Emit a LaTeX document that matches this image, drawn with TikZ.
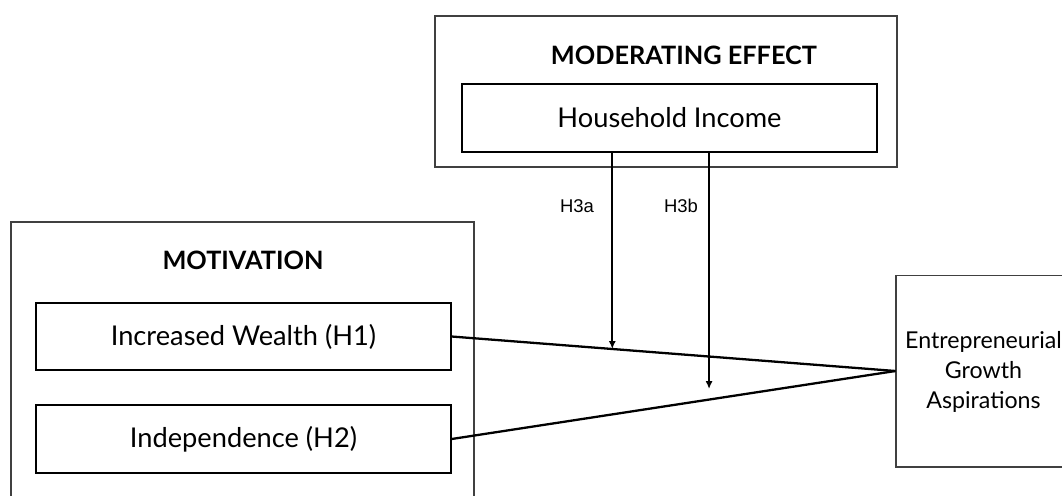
\documentclass[tikz,border=0pt]{standalone}
\usepackage{fontspec}
\setmainfont{Lato}
\newfontfamily\hypfont{Liberation Sans}
\usetikzlibrary{arrows.meta,positioning,calc}

\tikzstyle{groupbox}=[draw=black!75, line width=0.6pt]
\tikzstyle{varbox}=[draw, line width=0.75pt, inner sep=0pt]
\tikzstyle{grouptitle}=[font=\fontsize{14.4}{17}\selectfont\bfseries]
\tikzstyle{vartext}=[font=\fontsize{15.5}{18}\selectfont]
\tikzstyle{pathline}=[line width=1.3pt]
\tikzstyle{modarrow}=[line width=1.2pt, -{Latex[length=4.5pt,width=4pt]}]
\tikzstyle{hyplabel}=[font=\hypfont\fontsize{10.5}{12}\selectfont]

\begin{document}
\begin{tikzpicture}[x=0.02cm, y=-0.02cm]
	\useasboundingbox (0,0) rectangle (1062,495);
	% moderator
	\draw[groupbox] (435,16) rectangle (897,167);
	\node[grouptitle] (modtitle) at (684,55) {MODERATING EFFECT};
	\node[varbox, vartext, minimum width=8.3cm, minimum height=1.36cm] (income) at (669.5,118) {Household Income};
	% motivation (bottom edge runs off the page)
	\draw[groupbox] (11,505) |- (474,222) -- (474,505);
	\node[grouptitle] (motivtitle) at (243,260) {MOTIVATION};
	\node[varbox, vartext, minimum width=8.3cm, minimum height=1.34cm] (wealth) at (243.5,336.5) {Increased Wealth (H1)};
	\node[varbox, vartext, minimum width=8.3cm, minimum height=1.36cm] (indep) at (243.5,439) {Independence (H2)};
	% outcome
	\node[groupbox, minimum width=3.6cm, minimum height=3.84cm] (aspir) at (986,371) {};
	\node[align=center, font=\fontsize{13.2}{17}\selectfont] (aspirtext) at (983.5,372) {Entrepreneurial\\Growth\\Aspirations};
	% direct paths
	\draw[pathline] (wealth.east) -- (aspir.west);
	\draw[pathline] (indep.east) -- (aspir.west);
	% moderation
	\coordinate (h3aend) at ($(wealth.east)!0.362!(aspir.west)$);
	\coordinate (h3bend) at ($(indep.east)!0.58!(aspir.west)$);
	\draw[modarrow] (income.south -| h3aend) -- (h3aend);
	\draw[modarrow, shorten >=6pt] (income.south -| h3bend) -- (h3bend);
	\node[hyplabel] (h3a) at (577,206) {H3a};
	\node[hyplabel] (h3b) at (681,206) {H3b};
\end{tikzpicture}
\end{document}
